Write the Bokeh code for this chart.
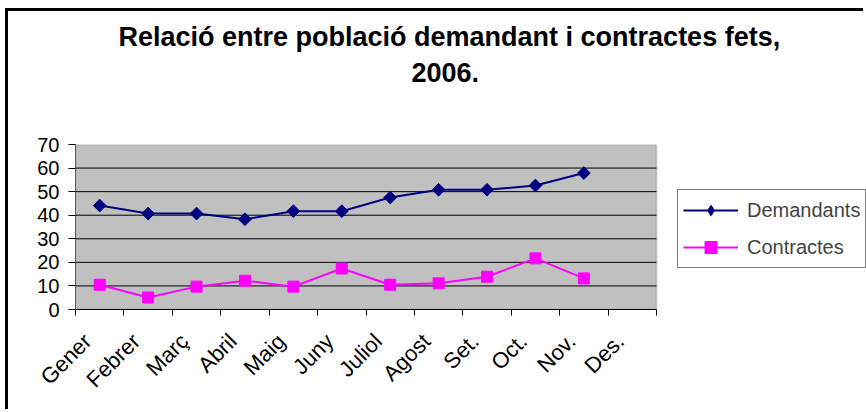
import math
from bokeh.plotting import figure
from bokeh.models import (Range1d, FixedTicker, LinearAxis, Legend, LegendItem, Title,
                          BoxAnnotation)
from bokeh.embed import file_html
from bokeh.resources import INLINE

# ---- data ----
months = ["Gener", "Febrer", "Març", "Abril", "Maig", "Juny", "Juliol",
          "Agost", "Set.", "Oct.", "Nov.", "Des."]
demandants = [44.1, 40.7, 40.7, 38.3, 41.7, 41.7, 47.5, 50.8, 50.8, 52.6, 57.9]
contractes = [10.5, 5.1, 9.7, 12.2, 9.7, 17.4, 10.5, 11.1, 13.9, 21.7, 13.2]
y_ticks = [0, 10, 20, 30, 40, 50, 60, 70]
title_line1 = "Relació entre població demandant i contractes fets,"
title_line2 = "2006."

FONT = "Liberation Sans"
N = len(months)

centers = [i + 0.5 for i in range(N)]
bounds = [i for i in range(N + 1)]
label_pos = [c - 0.25 for c in centers]
x_dem = centers[:len(demandants)]
x_con = centers[:len(contractes)]

W, H = 858, 401
LEFT, TOP, BOTTOM = 67, 133, 103
PLOT_PX = 581                      # pixel width of the grey plot area
frame_px = W - LEFT
x_end = N * frame_px / PLOT_PX     # frame extends to the right to hold the legend

p = figure(width=W, height=H, output_backend="svg", toolbar_location=None,
           x_range=Range1d(0, x_end), y_range=Range1d(y_ticks[0], y_ticks[-1]),
           min_border_left=LEFT, min_border_right=0,
           min_border_top=TOP, min_border_bottom=BOTTOM,
           x_axis_type=None, y_axis_type=None)
p.styles = {"border-left": "3px solid black", "border-top": "3px solid black",
            "margin-left": "5px", "margin-top": "8px"}
p.background_fill_color = "white"
p.border_fill_color = "white"
p.outline_line_color = None
p.xgrid.visible = False
p.ygrid.visible = False

# grey plot area
area = BoxAnnotation(left=0, right=N, bottom=y_ticks[0], top=y_ticks[-1],
                     fill_color="#C0C0C0", fill_alpha=1,
                     line_color="#808080", line_width=2, level="underlay")
p.add_layout(area)

# horizontal gridlines across the plot area
gl = y_ticks[1:-1]
p.segment(x0=[0] * len(gl), x1=[N] * len(gl), y0=gl, y1=gl,
          line_color="black", line_width=1)

# y axis
yax = LinearAxis(ticker=FixedTicker(ticks=y_ticks))
yax.major_label_text_font = FONT
yax.major_label_text_font_size = "20px"
yax.major_label_text_color = "black"
yax.major_tick_out = 7
yax.major_tick_in = 0
yax.minor_tick_out = 0
yax.minor_tick_in = 0
yax.major_label_standoff = 9
yax.axis_line_color = "#606060"
yax.major_tick_line_color = "black"
p.add_layout(yax, "left")

# x axis: labels under category centres, ticks at category boundaries
xax = LinearAxis(ticker=FixedTicker(ticks=label_pos, minor_ticks=bounds), bounds=(0, N))
xax.major_label_overrides = {c: m for c, m in zip(label_pos, months)}
xax.major_label_orientation = math.pi / 4
xax.major_label_text_font = FONT
xax.major_label_text_font_size = "22px"
xax.major_label_text_color = "black"
xax.major_tick_out = 0
xax.major_tick_in = 0
xax.minor_tick_out = 6
xax.minor_tick_in = 0
xax.minor_tick_line_color = "black"
xax.major_label_standoff = 22
xax.axis_line_color = "black"
p.add_layout(xax, "below")

# series
l1 = p.line(x_dem, demandants, line_color="#000080", line_width=2)
m1 = p.scatter(x_dem, demandants, marker="square", angle=math.pi / 4, size=9,
               fill_color="#000080", line_color="#000080")
l2 = p.line(x_con, contractes, line_color="#FF00FF", line_width=2)
m2 = p.scatter(x_con, contractes, marker="square", size=11,
               fill_color="#FF00FF", line_color="#FF00FF")
# legend glyph: diamond (the legend does not draw marker rotation); size 0 in the plot
m1_leg = p.scatter(x_dem, demandants, marker="diamond", size=0,
                   fill_color="#000080", line_color=None)

legend = Legend(items=[LegendItem(label="Demandants", renderers=[l1, m1_leg]),
                       LegendItem(label="Contractes", renderers=[l2, m2])],
                location=(602, 41))
legend.label_text_font = FONT
legend.label_text_font_size = "20px"
legend.glyph_width = 55
legend.glyph_height = 30
legend.label_height = 23
legend.label_standoff = 9
legend.spacing = 7
legend.padding = 5
legend.margin = 0
legend.border_line_color = "black"
legend.border_line_width = 1
legend.background_fill_color = "white"
legend.background_fill_alpha = 1
p.add_layout(legend, "center")

# title (two lines), with an invisible spacer next to the frame
spacer = Title(text=" ", text_font_size="1px", standoff=55)
t2 = Title(text=title_line2, align="left", offset=336, standoff=10,
           text_font=FONT, text_font_size="27px", text_font_style="bold",
           text_color="black")
t1 = Title(text=title_line1, align="left", offset=43, standoff=8,
           text_font=FONT, text_font_size="27px", text_font_style="bold",
           text_color="black")
p.add_layout(spacer, "above")
p.add_layout(t2, "above")
p.add_layout(t1, "above")

open("out.html", "w").write(file_html(p, INLINE))
